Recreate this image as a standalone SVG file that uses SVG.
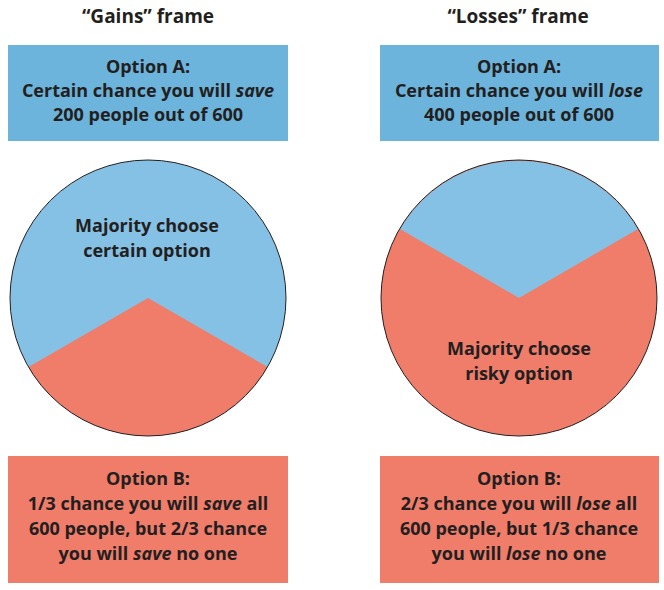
<svg xmlns="http://www.w3.org/2000/svg" width="664" height="590" viewBox="0 0 664 590">
<style>
text{font-family:"Open Sans","Liberation Sans",sans-serif;font-weight:bold;font-size:18px;fill:#231f20;text-anchor:middle}
.t{font-size:19px}
.box{stroke:none}
.b{fill:#6cb4dc}.r{fill:#f07d6a}.lb{fill:#85c1e5}
.ring{fill:none;stroke:#231f20;stroke-width:1}
</style>
<rect width="664" height="590" fill="#fff"/>
<text class="t" x="148" y="23">“Gains” frame</text>
<text class="t" x="518" y="23">“Losses” frame</text>
<g id="gainsA"><rect class="box b" x="8" y="45" width="280" height="96"/>
<text x="148" y="73">Option A:</text>
<text x="148" y="97">Certain chance you will <tspan font-style="italic">save</tspan></text>
<text x="148" y="121">200 people out of 600</text></g>
<g id="lossesA"><rect class="box b" x="380" y="45" width="279" height="96"/>
<text x="519" y="73">Option A:</text>
<text x="519" y="97">Certain chance you will <tspan font-style="italic">lose</tspan></text>
<text x="519" y="121">400 people out of 600</text></g>
<g id="gainsPie">
<circle class="lb" cx="148" cy="298" r="138"/>
<path class="r" d="M28.5,367 L148,298 L267.5,367 A138,138 0 0 1 28.5,367 Z"/>
<circle class="ring" cx="148" cy="298" r="138"/>
<text x="147" y="232">Majority choose</text>
<text x="147" y="257">certain option</text></g>
<g id="lossesPie">
<circle class="r" cx="519" cy="298" r="138"/>
<path class="lb" d="M400,229 L519,298 L638,229 A138,138 0 0 0 400,229 Z"/>
<circle class="ring" cx="519" cy="298" r="138"/>
<text x="519" y="355">Majority choose</text>
<text x="519" y="380">risky option</text></g>
<g id="gainsB"><rect class="box r" x="8" y="456" width="280" height="127"/>
<text x="148" y="485">Option B:</text>
<text x="148" y="510">1/3 chance you will <tspan font-style="italic">save</tspan> all</text>
<text x="148" y="535">600 people, but 2/3 chance</text>
<text x="148" y="560">you will <tspan font-style="italic">save</tspan> no one</text></g>
<g id="lossesB"><rect class="box r" x="380" y="456" width="279" height="127"/>
<text x="519" y="485">Option B:</text>
<text x="519" y="510">2/3 chance you will <tspan font-style="italic">lose</tspan> all</text>
<text x="519" y="535">600 people, but 1/3 chance</text>
<text x="519" y="560">you will <tspan font-style="italic">lose</tspan> no one</text></g>
<g id="connectors"/>
</svg>
